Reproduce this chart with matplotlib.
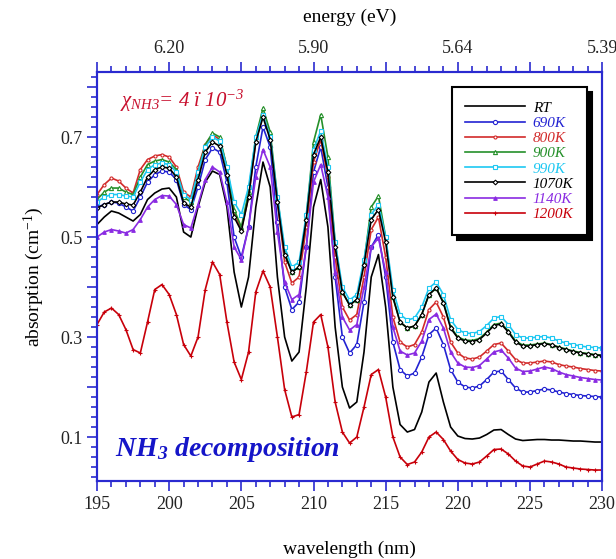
import numpy as np
import matplotlib
matplotlib.use("Agg")
import matplotlib.pyplot as plt
from matplotlib.ticker import MultipleLocator, FuncFormatter

plt.rcParams['font.family'] = ['Liberation Serif', 'DejaVu Serif']
plt.rcParams['mathtext.fontset'] = 'custom'
plt.rcParams['mathtext.rm'] = 'Liberation Serif:italic'
plt.rcParams['mathtext.it'] = 'Liberation Serif:italic'
plt.rcParams['mathtext.bf'] = 'Liberation Serif:bold:italic'
plt.rcParams['mathtext.sf'] = 'Liberation Serif'

# wavelength grid (nm), 0.5 nm step
wl = np.arange(195.0, 230.01, 0.5)

# absorption (cm-1) for each temperature
rt = [0.525, 0.540, 0.552, 0.548, 0.540, 0.532, 0.545, 0.575, 0.588, 0.596,
      0.598, 0.580, 0.510, 0.500, 0.560, 0.610, 0.632, 0.625, 0.560, 0.430,
      0.360, 0.420, 0.560, 0.650, 0.600, 0.420, 0.300, 0.252, 0.270, 0.400,
      0.560, 0.615, 0.520, 0.320, 0.200, 0.158, 0.170, 0.270, 0.420, 0.465,
      0.360, 0.200, 0.125, 0.110, 0.115, 0.150, 0.210, 0.228, 0.170, 0.120,
      0.102, 0.097, 0.096, 0.098, 0.105, 0.114, 0.115, 0.105, 0.096, 0.093,
      0.094, 0.095, 0.095, 0.094, 0.094, 0.093, 0.092, 0.092, 0.091, 0.090,
      0.090]
k690 = [0.560, 0.565, 0.570, 0.568, 0.560, 0.552, 0.580, 0.610, 0.625, 0.632,
        0.630, 0.615, 0.565, 0.555, 0.600, 0.655, 0.678, 0.670, 0.610, 0.500,
        0.460, 0.520, 0.640, 0.720, 0.680, 0.530, 0.400, 0.355, 0.370, 0.480,
        0.630, 0.680, 0.600, 0.420, 0.300, 0.268, 0.285, 0.370, 0.480, 0.505,
        0.420, 0.290, 0.235, 0.222, 0.228, 0.260, 0.305, 0.318, 0.285, 0.235,
        0.210, 0.200, 0.198, 0.202, 0.215, 0.230, 0.232, 0.215, 0.198, 0.190,
        0.190, 0.193, 0.196, 0.194, 0.190, 0.187, 0.185, 0.183, 0.182, 0.181,
        0.180]
k800 = [0.585, 0.605, 0.618, 0.612, 0.598, 0.588, 0.635, 0.655, 0.662, 0.665,
        0.660, 0.640, 0.590, 0.580, 0.640, 0.685, 0.705, 0.695, 0.640, 0.550,
        0.515, 0.580, 0.690, 0.745, 0.700, 0.570, 0.450, 0.408, 0.420, 0.520,
        0.650, 0.695, 0.620, 0.460, 0.360, 0.334, 0.345, 0.420, 0.515, 0.540,
        0.460, 0.340, 0.290, 0.280, 0.285, 0.310, 0.355, 0.370, 0.340, 0.290,
        0.268, 0.258, 0.256, 0.260, 0.272, 0.285, 0.288, 0.272, 0.255, 0.248,
        0.248, 0.250, 0.252, 0.250, 0.245, 0.242, 0.240, 0.237, 0.235, 0.233,
        0.232]
k900 = [0.575, 0.590, 0.598, 0.598, 0.590, 0.585, 0.620, 0.645, 0.652, 0.655,
        0.650, 0.635, 0.580, 0.570, 0.630, 0.685, 0.708, 0.700, 0.640, 0.555,
        0.520, 0.590, 0.700, 0.758, 0.710, 0.580, 0.470, 0.430, 0.440, 0.540,
        0.690, 0.745, 0.660, 0.490, 0.390, 0.364, 0.375, 0.450, 0.560, 0.582,
        0.500, 0.380, 0.330, 0.318, 0.322, 0.345, 0.385, 0.398, 0.370, 0.320,
        0.300, 0.294, 0.293, 0.297, 0.310, 0.325, 0.328, 0.312, 0.292, 0.284,
        0.284, 0.286, 0.288, 0.285, 0.280, 0.276, 0.272, 0.269, 0.267, 0.265,
        0.264]
k990 = [0.570, 0.580, 0.585, 0.585, 0.582, 0.580, 0.610, 0.635, 0.645, 0.648,
        0.645, 0.630, 0.585, 0.575, 0.630, 0.680, 0.700, 0.692, 0.640, 0.570,
        0.545, 0.600, 0.700, 0.745, 0.700, 0.580, 0.480, 0.440, 0.450, 0.545,
        0.675, 0.712, 0.640, 0.490, 0.400, 0.374, 0.385, 0.455, 0.545, 0.565,
        0.500, 0.395, 0.345, 0.334, 0.338, 0.360, 0.398, 0.410, 0.385, 0.335,
        0.315, 0.308, 0.307, 0.311, 0.323, 0.338, 0.341, 0.325, 0.305, 0.298,
        0.298, 0.300, 0.301, 0.298, 0.292, 0.288, 0.285, 0.282, 0.280, 0.279,
        0.278]
k1070 = [0.558, 0.565, 0.570, 0.570, 0.566, 0.564, 0.590, 0.620, 0.635, 0.640,
         0.638, 0.620, 0.568, 0.560, 0.615, 0.670, 0.690, 0.682, 0.625, 0.540,
         0.512, 0.580, 0.690, 0.740, 0.695, 0.570, 0.465, 0.430, 0.440, 0.535,
         0.665, 0.700, 0.630, 0.480, 0.390, 0.364, 0.375, 0.445, 0.535, 0.555,
         0.490, 0.380, 0.330, 0.318, 0.322, 0.345, 0.385, 0.398, 0.368, 0.318,
         0.298, 0.292, 0.291, 0.295, 0.308, 0.323, 0.326, 0.310, 0.290, 0.282,
         0.282, 0.285, 0.287, 0.284, 0.279, 0.275, 0.271, 0.268, 0.266, 0.264,
         0.263]
k1140 = [0.500, 0.510, 0.515, 0.512, 0.508, 0.515, 0.535, 0.560, 0.575, 0.583,
         0.582, 0.565, 0.525, 0.518, 0.565, 0.615, 0.640, 0.630, 0.570, 0.480,
         0.455, 0.520, 0.620, 0.675, 0.640, 0.510, 0.410, 0.375, 0.385, 0.480,
         0.610, 0.645, 0.580, 0.430, 0.340, 0.314, 0.325, 0.400, 0.480, 0.498,
         0.430, 0.320, 0.272, 0.264, 0.268, 0.292, 0.335, 0.346, 0.318, 0.270,
         0.248, 0.240, 0.239, 0.243, 0.256, 0.270, 0.274, 0.258, 0.238, 0.231,
         0.232, 0.236, 0.240, 0.237, 0.230, 0.225, 0.222, 0.219, 0.217, 0.215,
         0.214]
k1200 = [0.325, 0.350, 0.358, 0.345, 0.315, 0.275, 0.268, 0.330, 0.395, 0.405,
         0.385, 0.345, 0.285, 0.262, 0.300, 0.395, 0.450, 0.425, 0.330, 0.250,
         0.215, 0.270, 0.390, 0.432, 0.400, 0.300, 0.195, 0.140, 0.145, 0.230,
         0.330, 0.345, 0.280, 0.170, 0.110, 0.088, 0.100, 0.160, 0.225, 0.235,
         0.180, 0.100, 0.060, 0.045, 0.050, 0.070, 0.100, 0.110, 0.095, 0.072,
         0.055, 0.048, 0.046, 0.050, 0.062, 0.075, 0.076, 0.066, 0.052, 0.042,
         0.040, 0.046, 0.052, 0.050, 0.046, 0.040, 0.038, 0.036, 0.035, 0.034,
         0.034]

labels = ['RT', '690K', '800K', '900K', '990K', '1070K', '1140K', '1200K']
energy_ticks = [200, 210, 220, 230]
energy_labels = ['6.20', '5.90', '5.64', '5.39']

series = [rt, k690, k800, k900, k990, k1070, k1140, k1200]
colors = ['black', '#2323d2', '#d22a2a', '#25902a', '#1ec8f2', 'black', '#8a2be2', '#c8000a']
markers = [None, 'o', 'o', '^', 's', 'D', '^', '+']
msizes = [0, 3.0, 2.2, 3.0, 3.0, 2.4, 2.6, 3.5]
mfcs = ['none', 'white', 'white', 'white', 'white', 'white', '#8a2be2', '#c8000a']

blue = '#2a2ad0'

fig = plt.figure(figsize=(6.16, 5.59), dpi=100)
ax = fig.add_axes([0.1575, 0.1395, 0.82, 0.7316])

for y, c, m, ms, mf, lab in zip(series, colors, markers, msizes, mfcs, labels):
    ax.plot(wl, y, color=c, lw=1.2, marker=m, ms=ms, mfc=mf, mec=c, mew=0.8, label=lab)

ax.set_xlim(195, 230)
ax.set_ylim(0.012, 0.83)
ax.xaxis.set_major_locator(MultipleLocator(5))
ax.xaxis.set_minor_locator(MultipleLocator(1))
ax.yaxis.set_major_locator(MultipleLocator(0.1))
ax.yaxis.set_minor_locator(MultipleLocator(0.02))
ax.yaxis.set_major_formatter(FuncFormatter(
    lambda v, p: '%.1f' % v if int(round(v * 10)) % 2 == 1 else ''))

for s in ax.spines.values():
    s.set_color(blue)
    s.set_linewidth(1.5)
ax.tick_params(which='both', direction='out', color=blue, width=1.2,
               labelsize=13, labelcolor='#222222', right=False, top=False)
ax.tick_params(which='major', length=7)
ax.tick_params(which='minor', length=4)

ax.set_xlabel('wavelength (nm)', fontsize=14, labelpad=20)
ax.set_ylabel(r'absorption (cm$^{\mathsf{-1}}$)', fontsize=14, labelpad=10)

# energy scale on top
ax2 = ax.twiny()
ax2.set_xlim(ax.get_xlim())
ax2.xaxis.set_major_locator(MultipleLocator(5))
ax2.xaxis.set_minor_locator(MultipleLocator(1))
ax2.xaxis.set_major_formatter(FuncFormatter(
    lambda v, p: energy_labels[energy_ticks.index(int(round(v)))] if int(round(v)) in energy_ticks else ''))
for s in ax2.spines.values():
    s.set_color(blue)
    s.set_linewidth(1.5)
ax2.tick_params(which='both', direction='out', color=blue, width=1.2,
                labelsize=13, labelcolor='#222222')
ax2.tick_params(which='major', length=7)
ax2.tick_params(which='minor', length=4)
ax2.set_xlabel('energy (eV)', fontsize=14, labelpad=13)

leg = ax.legend(loc='upper right', bbox_to_anchor=(0.97, 0.963), fontsize=11,
                frameon=True, fancybox=False, edgecolor='black', framealpha=1,
                shadow={'ox': 3.5, 'oy': -3.5, 'color': 'black', 'alpha': 1},
                handlelength=3.9, labelspacing=0.1, borderpad=0.9,
                handletextpad=0.5, markerscale=1.0, borderaxespad=0)
leg.get_frame().set_linewidth(1.5)
for t, c in zip(leg.get_texts(), colors):
    t.set_color(c)
    t.set_style('italic')

ax.text(0.045, 0.915, r'$\chi_{NH3}$= 4 ï 10$^{-3}$', transform=ax.transAxes,
        color='#c8102e', fontsize=15, style='italic')
ax.text(0.036, 0.06, r'NH$_\mathbf{3}$ decomposition', transform=ax.transAxes,
        color='#1515c8', fontsize=20, fontweight='bold', style='italic')

fig.savefig('out.png', dpi=100)
